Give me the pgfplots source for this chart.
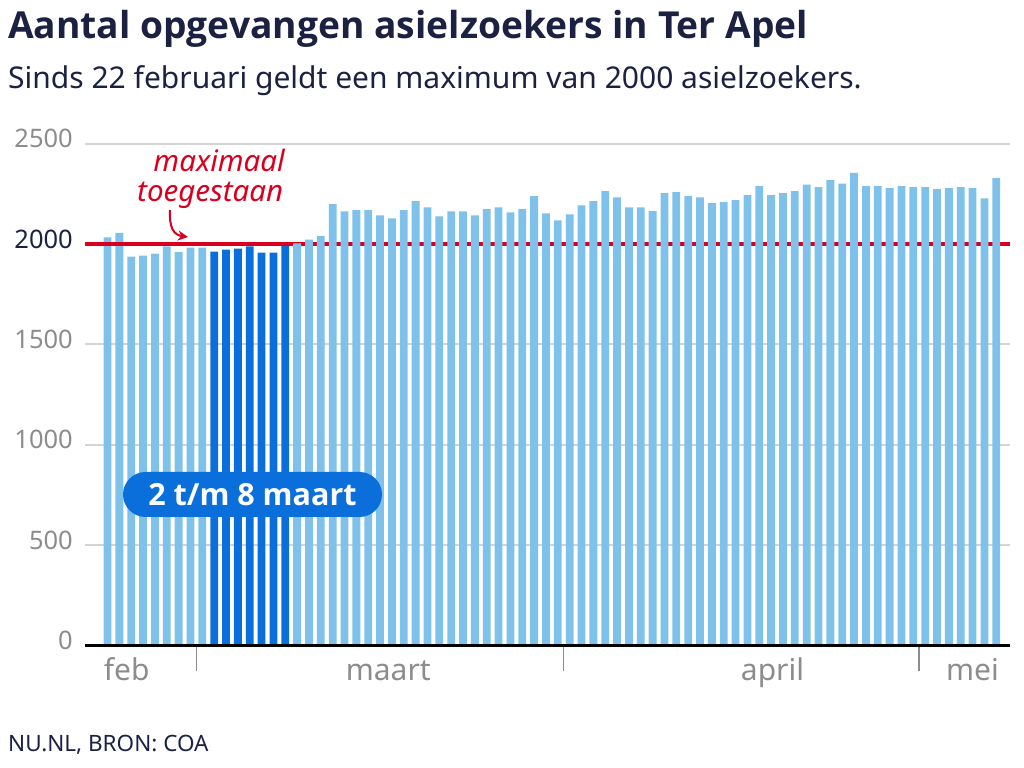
\documentclass[border=0pt]{standalone}
\usepackage{fontspec}
\setmainfont{Noto Sans}
\newfontfamily\boldfam{Open Sans}
\usepackage{pgfplots}
\pgfplotsset{compat=1.18}
\usetikzlibrary{arrows.meta}
\definecolor{lightbar}{HTML}{7EC1EA}
\definecolor{darkbar}{HTML}{0B6FDB}
\definecolor{maxred}{HTML}{D8001E}
\definecolor{navy}{HTML}{1C2142}
\definecolor{tickgray}{HTML}{8C8C8C}
\definecolor{gridgray}{HTML}{D4D4D4}

\begin{document}
\begin{tikzpicture}[x=1bp,y=1bp]
\useasboundingbox (0,0) rectangle (1024,768);
\node[anchor=base west, inner sep=0, text=navy, font=\fontsize{37.2bp}{45bp}\selectfont\boldfam\bfseries] at (8,729) {Aantal opgevangen asielzoekers in Ter Apel};
\node[anchor=base west, inner sep=0, text=navy, font=\fontsize{30bp}{36bp}\selectfont] at (8,679.7) {Sinds 22 februari geldt een maximum van 2000 asielzoekers.};
\begin{axis}[
  at={(85bp,122.7bp)}, anchor=south west,
  scale only axis, width=925bp, height=501.6bp,
  xmin=-1.899, xmax=76.16, ymin=0, ymax=2500,
  clip=false,
  axis x line=bottom, axis y line=left, axis line style={draw=none},
  ytick={0,500,1000,1500,2000,2500},
  yticklabels={0,500,1000,1500,\textcolor{navy}{2000},2500},
  ymajorgrids, grid style={gridgray, line width=2bp},
  ytick style={draw=none},
  yticklabel style={text=tickgray, font=\fontsize{25.5bp}{30bp}\selectfont, anchor=east, inner sep=0pt, xshift=14bp, yshift=5bp},
  xtick={7.5,38.5,68.5}, xticklabels={\empty,\empty,\empty},
  xtick style={tickgray, line width=1.5bp},
  tick align=outside, major tick length=26bp,
]
\addplot[maxred, line width=3.4bp, mark=none] coordinates {(-1.899,2000) (76.16,2000)};
\addplot[ybar, bar width=7.8bp, fill=lightbar, draw=none] coordinates {
(0,2033) (1,2056) (2,1937) (3,1942) (4,1952) (5,1988) (6,1960) (7,1982) (8,1982)
(16,2003) (17,2022) (18,2040) (19,2199) (20,2163) (21,2169) (22,2169) (23,2143) (24,2128) (25,2169)
(26,2214) (27,2183) (28,2138) (29,2163) (30,2163) (31,2143) (32,2174) (33,2183) (34,2158) (35,2174)
(36,2239) (37,2153) (38,2118) (39,2148) (40,2193) (41,2214) (42,2264) (43,2233) (44,2183) (45,2183)
(46,2164) (47,2254) (48,2259) (49,2239) (50,2233) (51,2204) (52,2209) (53,2219) (54,2244) (55,2289)
(56,2244) (57,2254) (58,2264) (59,2296) (60,2284) (61,2319) (62,2301) (63,2354) (64,2289) (65,2289)
(66,2279) (67,2289) (68,2284) (69,2284) (70,2274) (71,2279) (72,2284) (73,2279) (74,2228) (75,2329)
};
\addplot[ybar, bar width=7.8bp, fill=darkbar, draw=none] coordinates {
(9,1962) (10,1972) (11,1977) (12,1988) (13,1957) (14,1957) (15,1995)
};
\addplot[maxred, line width=3.4bp, mark=none] coordinates {(-1.899,2000) (15.67,2000)};
\addplot[black, line width=3.5bp, mark=none] coordinates {(-1.899,0) (76.16,0)};
\end{axis}
\foreach \lab/\xx in {feb/126.7, maart/388.3, april/772.5, mei/972.5}
  \node[anchor=base, inner sep=0, text=tickgray, font=\fontsize{30bp}{35bp}\selectfont] at (\xx,87.3) {\lab};
\node[anchor=base east, inner sep=0, text=maxred, font=\fontsize{29.5bp}{35bp}\selectfont\itshape] at (285,596.3) {maximaal};
\node[anchor=base east, inner sep=0, text=maxred, font=\fontsize{29.5bp}{35bp}\selectfont\itshape] at (283.5,566.3) {toegestaan};
\draw[maxred, line width=2bp, -{Stealth[length=10bp,width=10bp]}] (170,558) .. controls (169,540) and (174,533) .. (188,531);
\node[fill=darkbar, rounded corners=22.5bp, minimum width=259bp, minimum height=45bp, inner sep=0, text=white, font=\fontsize{30.5bp}{35bp}\selectfont\boldfam\bfseries] at (252.5,273.5) {2 t/m 8 maart};
\node[anchor=base west, inner sep=0, text=navy, font=\fontsize{22.5bp}{27bp}\selectfont] at (8,16) {NU.NL, BRON: COA};
\end{tikzpicture}
\end{document}
